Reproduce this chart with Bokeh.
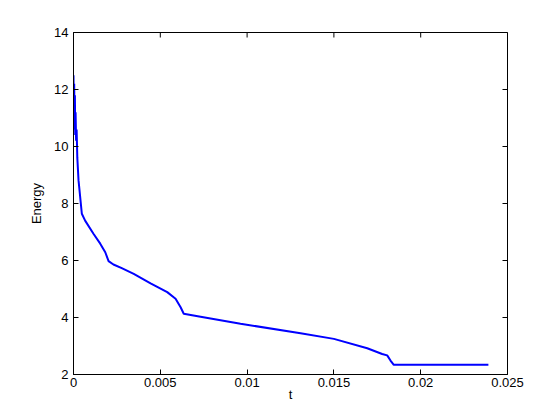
from bokeh.plotting import figure
from bokeh.models import FixedTicker, Range1d
from bokeh.embed import file_html
from bokeh.resources import INLINE

# Data
t_vals = [0, 0.00002, 0.00004, 0.00006, 0.00008, 0.0001, 0.00012, 0.00015, 0.00018,
          0.00022, 0.00029, 0.00048, 0.00067, 0.00115, 0.00154, 0.00183, 0.00202,
          0.0023, 0.00278, 0.00347, 0.00444, 0.0054, 0.00588, 0.00617, 0.00635,
          0.00732, 0.00962, 0.01308, 0.015, 0.01692, 0.01778, 0.01807, 0.01826,
          0.01845, 0.0239]
energy = [12.5, 11.0, 12.2, 10.6, 11.8, 10.4, 11.2, 10.2, 10.6,
          9.6, 8.81, 7.64, 7.4, 6.94, 6.59, 6.29, 5.98,
          5.86, 5.73, 5.53, 5.20, 4.89, 4.66, 4.36, 4.13,
          4.03, 3.78, 3.45, 3.25, 2.92, 2.72, 2.67, 2.49,
          2.34, 2.34]

x_ticks = [0, 0.005, 0.01, 0.015, 0.02, 0.025]
x_tick_labels = ["0", "0.005", "0.01", "0.015", "0.02", "0.025"]
y_ticks = [2, 4, 6, 8, 10, 12, 14]
x_min, x_max = 0, 0.025
y_min, y_max = 2, 14

FONT = "Liberation Sans"

p = figure(width=544, height=404, output_backend="svg", toolbar_location=None,
           x_range=Range1d(x_min, x_max), y_range=Range1d(y_min, y_max),
           min_border_left=73, min_border_right=37, min_border_top=32, min_border_bottom=30)
p.background_fill_color = "white"
p.border_fill_color = "white"
p.outline_line_color = "black"
p.outline_line_width = 1
p.xgrid.visible = False
p.ygrid.visible = False

p.line(t_vals, energy, line_color="#0000ff", line_width=2)

# Inward tick marks on top and right edges (box style); half is clipped by the frame
p.scatter(x_ticks, [y_max] * len(x_ticks), marker="dash", size=10, angle=1.5708,
          line_color="black", line_width=1)
p.scatter([x_max] * len(y_ticks), y_ticks, marker="dash", size=10, angle=0,
          line_color="black", line_width=1)

def style(ax, ticks, labels=None):
    ax.ticker = FixedTicker(ticks=ticks)
    ax.major_tick_in = 5
    ax.major_tick_out = 0
    ax.minor_tick_in = 0
    ax.minor_tick_out = 0
    ax.axis_line_color = "black"
    ax.major_tick_line_color = "black"
    ax.major_label_text_font = FONT
    ax.major_label_text_color = "black"
    ax.major_label_text_font_size = "13px"
    ax.axis_label_text_font = FONT
    ax.axis_label_text_font_style = "normal"
    ax.axis_label_text_font_size = "13px"
    ax.axis_label_text_color = "black"
    if labels is not None:
        ax.major_label_overrides = {tk: lb for tk, lb in zip(ticks, labels)}

xa = p.xaxis[0]
style(xa, x_ticks, x_tick_labels)
xa.axis_label = "t"
xa.major_label_standoff = 3
xa.axis_label_standoff = -3

ya = p.yaxis[0]
style(ya, y_ticks)
ya.axis_label = "Energy"
ya.major_label_standoff = 5
ya.axis_label_standoff = 7

open("out.html", "w").write(file_html(p, INLINE))
